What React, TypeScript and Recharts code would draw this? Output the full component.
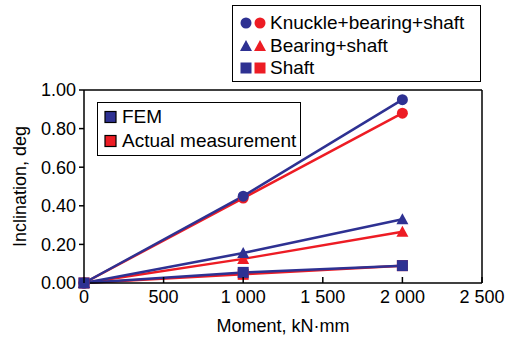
import { LineChart, Line, XAxis, YAxis, ReferenceLine } from "recharts";

const moments = [0, 1000, 2000];
const femKnuckle = [0, 0.45, 0.95];
const actKnuckle = [0, 0.44, 0.88];
const femBearing = [0, 0.155, 0.33];
const actBearing = [0, 0.125, 0.265];
const femShaft = [0, 0.055, 0.09];
const actShaft = [0, 0.045, 0.09];

const xTicks = [0, 500, 1000, 1500, 2000, 2500];
const xTickLabels = ["0", "500", "1 000", "1 500", "2 000", "2 500"];
const yTicks = [0, 0.2, 0.4, 0.6, 0.8, 1.0];

const shapeNames = ["Knuckle+bearing+shaft", "Bearing+shaft", "Shaft"];
const sourceNames = ["FEM", "Actual measurement"];

const BLUE = "#2e3192";
const RED = "#ed1c24";
const FONT = "'Liberation Sans', Arial, sans-serif";

const data = moments.map((m, i) => ({
  m,
  femKnuckle: femKnuckle[i],
  actKnuckle: actKnuckle[i],
  femBearing: femBearing[i],
  actBearing: actBearing[i],
  femShaft: femShaft[i],
  actShaft: actShaft[i],
}));

type Shape = "circle" | "triangle" | "square";

function Marker({ shape, color, cx, cy }: { shape: Shape; color: string; cx: number; cy: number }) {
  if (shape === "circle") return <circle cx={cx} cy={cy} r={5.5} fill={color} />;
  if (shape === "triangle")
    return <polygon points={`${cx},${cy - 6} ${cx + 6},${cy + 5} ${cx - 6},${cy + 5}`} fill={color} />;
  return <rect x={cx - 5.5} y={cy - 5.5} width={11} height={11} fill={color} />;
}

const makeDot = (shape: Shape, color: string) => (p: any) =>
  <Marker key={`${p.dataKey}-${p.index}`} shape={shape} color={color} cx={p.cx} cy={p.cy} />;

function XTick(props: any) {
  const { x, y, payload } = props;
  const label = xTickLabels[xTicks.indexOf(payload.value)] ?? String(payload.value);
  return (
    <g>
      <line x1={x} x2={x} y1={y} y2={y - 6} stroke="#000" strokeWidth={1.5} />
      <text x={x} y={y + 20} textAnchor="middle" fill="#000" fontSize={18} fontFamily={FONT}>
        {label}
      </text>
    </g>
  );
}

const series: { key: string; shape: Shape; color: string }[] = [
  { key: "actKnuckle", shape: "circle", color: RED },
  { key: "actBearing", shape: "triangle", color: RED },
  { key: "actShaft", shape: "square", color: RED },
  { key: "femKnuckle", shape: "circle", color: BLUE },
  { key: "femBearing", shape: "triangle", color: BLUE },
  { key: "femShaft", shape: "square", color: BLUE },
];

const legendShapes: Shape[] = ["circle", "triangle", "square"];

export default function App() {
  return (
    <div style={{ position: "absolute", left: 0, top: 0, width: 505, height: 339, background: "#fff", fontFamily: FONT }}>
      <LineChart width={505} height={339} data={data} margin={{ top: 90, right: 23, bottom: 0, left: 0 }}>
        <XAxis
          dataKey="m"
          type="number"
          domain={[0, 2500]}
          ticks={xTicks}
          tick={<XTick />}
          tickLine={false}
          tickSize={0}
          tickMargin={0}
          height={56}
          axisLine={{ stroke: "#000", strokeWidth: 1.5 }}
          label={{ value: "Moment, kN·mm", position: "insideBottom", offset: 7, fill: "#000", fontSize: 18, fontFamily: FONT }}
        />
        <YAxis
          type="number"
          domain={[0, 1]}
          ticks={yTicks}
          width={84}
          tickFormatter={(v: number) => v.toFixed(2)}
          tick={{ fill: "#000", fontSize: 18, fontFamily: FONT }}
          tickLine={{ stroke: "#000", strokeWidth: 1.5 }}
          tickSize={5}
          tickMargin={3}
          axisLine={{ stroke: "#000", strokeWidth: 1.5 }}
          label={{
            value: "Inclination, deg",
            angle: -90,
            position: "insideLeft",
            offset: 20,
            fill: "#000",
            fontSize: 18,
            fontFamily: FONT,
            style: { textAnchor: "middle" },
          }}
        />
        <ReferenceLine y={1} stroke="#000" strokeWidth={1.5} />
        <ReferenceLine x={2500} stroke="#000" strokeWidth={1.5} />
        {series.map((s) => (
          <Line
            key={s.key}
            dataKey={s.key}
            stroke={s.color}
            strokeWidth={2.5}
            dot={makeDot(s.shape, s.color)}
            activeDot={false}
            isAnimationActive={false}
          />
        ))}
      </LineChart>

      <div
        style={{
          position: "absolute",
          left: 232,
          top: 5,
          width: 247,
          height: 75,
          border: "1.5px solid #000",
          background: "#fff",
          fontSize: 19,
          color: "#000",
        }}
      >
        {shapeNames.map((name, i) => (
          <div key={name} style={{ position: "absolute", left: 6, top: 6 + i * 22.5, height: 22, display: "flex", alignItems: "center" }}>
            <svg width={30} height={22}>
              <Marker shape={legendShapes[i]} color={BLUE} cx={7} cy={11} />
              <Marker shape={legendShapes[i]} color={RED} cx={21} cy={11} />
            </svg>
            <span style={{ marginLeft: 1, whiteSpace: "nowrap" }}>{name}</span>
          </div>
        ))}
      </div>

      <div
        style={{
          position: "absolute",
          left: 97,
          top: 102,
          width: 202,
          height: 52,
          border: "1.5px solid #000",
          background: "#fff",
          fontSize: 19,
          color: "#000",
        }}
      >
        {sourceNames.map((name, i) => (
          <div key={name} style={{ position: "absolute", left: 6, top: 3 + i * 23.5, height: 22, display: "flex", alignItems: "center" }}>
            <svg width={16} height={22}>
              <rect x={1} y={5.5} width={11} height={11} fill={i === 0 ? BLUE : RED} stroke="#000" strokeWidth={1.2} />
            </svg>
            <span style={{ marginLeft: 2, whiteSpace: "nowrap" }}>{name}</span>
          </div>
        ))}
      </div>
    </div>
  );
}
